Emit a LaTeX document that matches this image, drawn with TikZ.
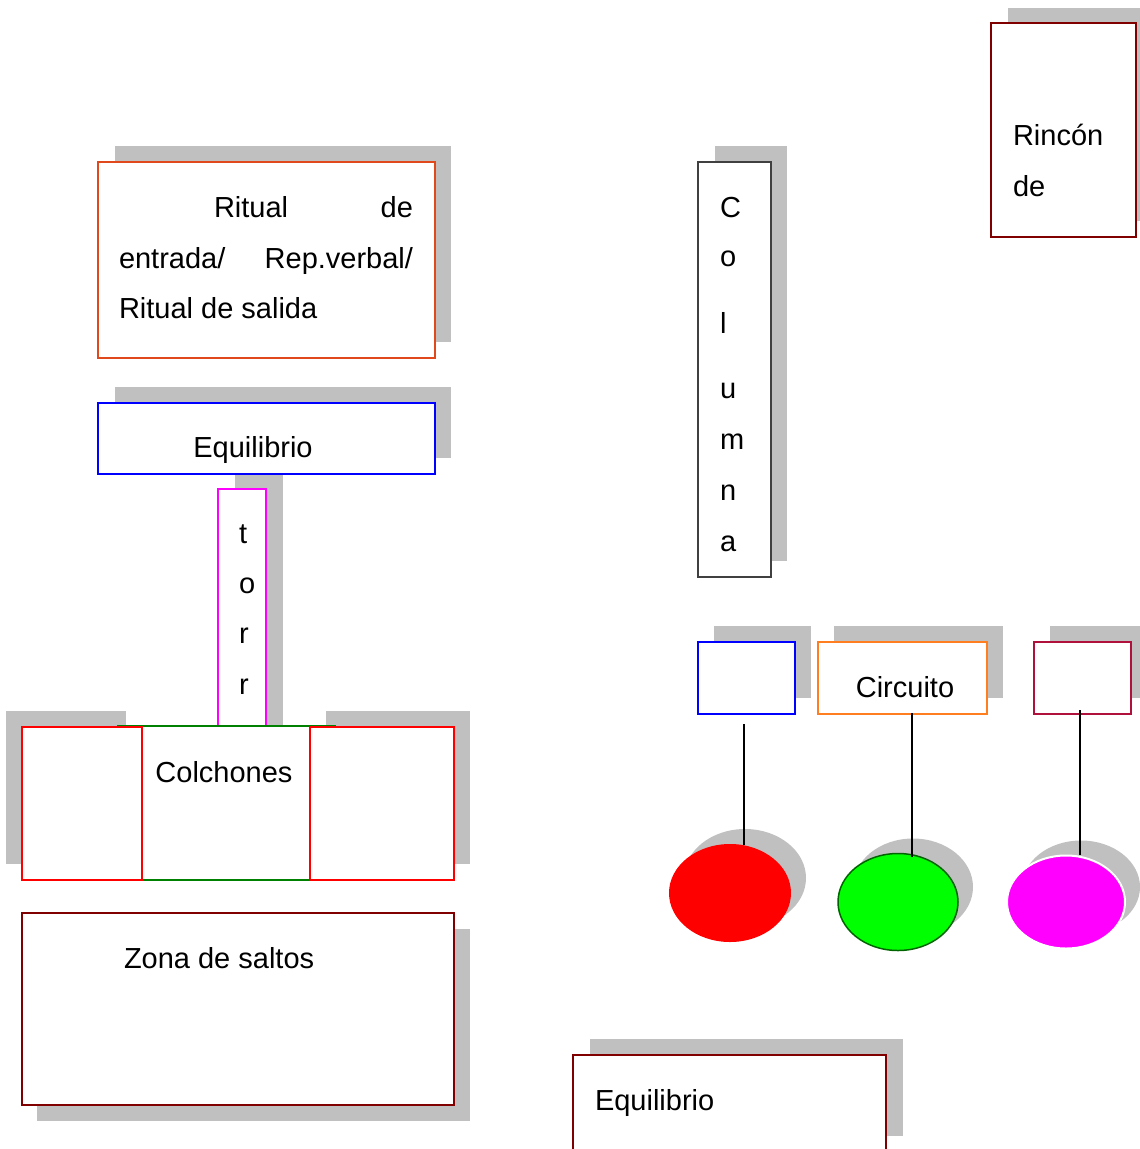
\documentclass[tikz,border=0pt]{standalone}
\usepackage{fontspec}
\setmainfont{Liberation Sans}
\usetikzlibrary{shapes.geometric}
\definecolor{shadowgray}{HTML}{C0C0C0}
\definecolor{ritualcol}{HTML}{E0491B}
\definecolor{bluecol}{HTML}{0000FF}
\definecolor{magcol}{HTML}{FF00FF}
\definecolor{greencol}{HTML}{008000}
\definecolor{redcol}{HTML}{FF0000}
\definecolor{darkredcol}{HTML}{800000}
\definecolor{colcol}{HTML}{404040}
\definecolor{orangecol}{HTML}{FF7F20}
\definecolor{crimsoncol}{HTML}{B0103C}
\definecolor{limecol}{HTML}{00FF00}
\definecolor{dkgreencol}{HTML}{006400}
\newcommand\lblfont{\fontsize{29}{35}\selectfont}
\begin{document}
\begin{tikzpicture}[x=1pt,y=-1pt,
  shadowbox/.style={fill=shadowgray, draw=none, inner sep=0, outer sep=0, anchor=north west},
  box/.style={fill=white, line width=1.6, inner sep=0, outer sep=0, anchor=north west},
  shadowell/.style={ellipse, fill=shadowgray, draw=none, inner sep=0, outer sep=0},
  ell/.style={ellipse, inner sep=0, outer sep=0},
  lbl/.style={inner sep=0, outer sep=0, font=\lblfont},
  link/.style={line width=1.4, draw=black}]
\useasboundingbox (0,0) rectangle (1140,1149);
\clip (0,0) rectangle (1140,1149);
% shadows
\node[shadowbox, minimum width=336, minimum height=196] (sritual) at (115,146) {};
\node[shadowbox, minimum width=336, minimum height=71] (sequila) at (115,387) {};
\node[shadowbox, minimum width=48, minimum height=252] (storre) at (235,474) {};
\node[shadowbox, minimum width=120, minimum height=153] (scolL) at (6,711) {};
\node[shadowbox, minimum width=144, minimum height=153] (scolR) at (326,711) {};
\node[shadowbox, minimum width=433, minimum height=192] (szona) at (37,929) {};
\node[shadowbox, minimum width=72, minimum height=415] (scolumna) at (715,146) {};
\node[shadowbox, minimum width=145, minimum height=213] (srincon) at (1008,8) {};
\node[shadowbox, minimum width=97, minimum height=72] (sblue) at (714,626) {};
\node[shadowbox, minimum width=169, minimum height=72] (sorange) at (834,626) {};
\node[shadowbox, minimum width=97, minimum height=72] (scrimson) at (1050,626) {};
\node[shadowbox, minimum width=313, minimum height=97] (sequilb) at (590,1039) {};
\node[shadowell, minimum width=122, minimum height=98] (sred) at (745,878) {};
\node[shadowell, minimum width=120, minimum height=97] (sgreen) at (913,887) {};
\node[shadowell, minimum width=118, minimum height=93] (smag) at (1081,887) {};
% boxes
\node[box, draw=ritualcol, minimum width=337, minimum height=196] (ritual) at (98,162) {};
\node[box, draw=bluecol, minimum width=337, minimum height=71] (equila) at (98,403) {};
\node[box, draw=magcol, minimum width=48, minimum height=237] (torre) at (218,489) {};
\node[box, draw=greencol, minimum width=217, minimum height=154] (colM) at (118,726) {};
\node[box, draw=redcol, minimum width=120, minimum height=153] (colL) at (22,727) {};
\node[box, draw=redcol, minimum width=144, minimum height=153] (colR) at (310,727) {};
\node[box, draw=darkredcol, minimum width=432, minimum height=192] (zona) at (22,913) {};
\node[box, draw=colcol, minimum width=73, minimum height=415] (columna) at (698,162) {};
\node[box, draw=darkredcol, minimum width=145, minimum height=214] (rincon) at (991,23) {};
\node[box, draw=bluecol, minimum width=97, minimum height=72] (bluebox) at (698,642) {};
\node[box, draw=orangecol, minimum width=169, minimum height=72] (orangebox) at (818,642) {};
\node[box, draw=crimsoncol, minimum width=97, minimum height=72] (crimsonbox) at (1034,642) {};
\node[box, draw=darkredcol, minimum width=313, minimum height=130] (equilb) at (573,1055) {};
% ellipses
\node[ell, fill=redcol, minimum width=122, minimum height=98] (redell) at (730,893) {};
\node[ell, fill=limecol, draw=dkgreencol, line width=1.5, minimum width=120, minimum height=97] (greenell) at (898,902) {};
\node[ell, fill=magcol, draw=white, line width=2, minimum width=118, minimum height=93] (magell) at (1066,902) {};
% connectors
\coordinate (l1a) at (744,724); \coordinate (l1b) at (744,845);
\coordinate (l2a) at (912,713); \coordinate (l2b) at (912,857);
\coordinate (l3a) at (1080,710); \coordinate (l3b) at (1080,855);
\draw[link] (l1a) -- (l1b);
\draw[link] (l2a) -- (l2b);
\draw[link] (l3a) -- (l3b);
% texts
\node[lbl, anchor=base west] (t1a) at (214,217) {Ritual};
\node[lbl, anchor=base east] (t1b) at (413,217) {de};
\node[lbl, anchor=base west] (t2a) at (119,268) {entrada/};
\node[lbl, anchor=base east] (t2b) at (413,268) {Rep.verbal/};
\node[lbl, anchor=base west] (t3) at (119,318) {Ritual de salida};
\node[lbl, anchor=base] (tequila) at (253,457) {Equilibrio};
\node[lbl, anchor=base west] (tt1) at (239,543) {t};
\node[lbl, anchor=base west] (tt2) at (239,593) {o};
\node[lbl, anchor=base west] (tt3) at (239,643) {r};
\node[lbl, anchor=base west] (tt4) at (239,694) {r};
\node[lbl, anchor=base] (tcolch) at (224,782) {Colchones};
\node[lbl, anchor=base west] (tzona) at (124,968) {Zona de saltos};
\node[lbl, anchor=base west] (tc1) at (720,217) {C};
\node[lbl, anchor=base west] (tc2) at (720,266) {o};
\node[lbl, anchor=base west] (tc3) at (720,333) {l};
\node[lbl, anchor=base west] (tc4) at (720,398) {u};
\node[lbl, anchor=base west] (tc5) at (720,449) {m};
\node[lbl, anchor=base west] (tc6) at (720,500) {n};
\node[lbl, anchor=base west] (tc7) at (720,551) {a};
\node[lbl, anchor=base west] (trin1) at (1013,145) {Rincón};
\node[lbl, anchor=base west] (trin2) at (1013,196) {de};
\node[lbl, anchor=base] (tcirc) at (905,697) {Circuito};
\node[lbl, anchor=base west] (tequilb) at (595,1110) {Equilibrio};
\end{tikzpicture}
\end{document}
